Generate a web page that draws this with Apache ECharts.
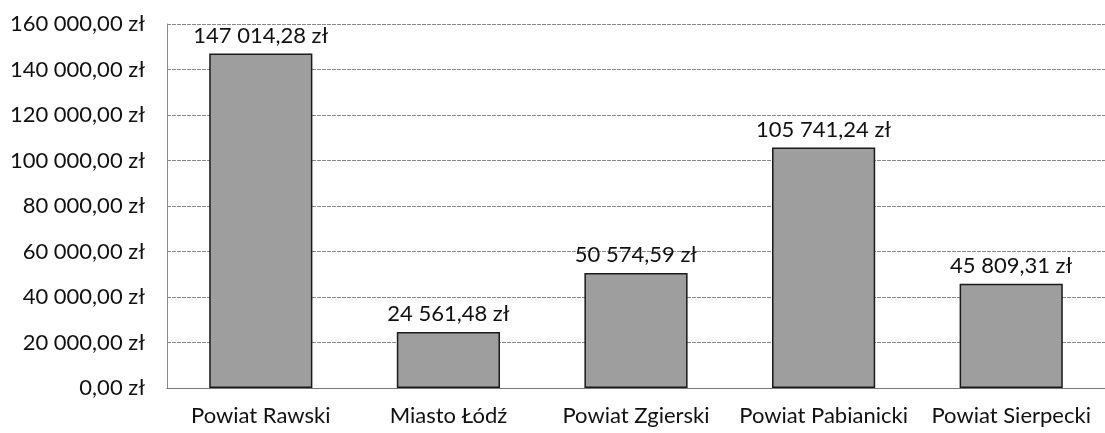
<!DOCTYPE html>
<html lang="pl">
<head>
    <meta charset="UTF-8">
    <title>Powiaty</title>
    <style>
        html, body { margin: 0; padding: 0; background: #fff; }
    </style>
</head>
<body>
    <div id="main" style="width: 1105px;height:433px;"></div>

    <script src="https://cdn.jsdelivr.net/npm/echarts@6/dist/echarts.min.js"></script>
    <script>
        const categories = ['Powiat Rawski', 'Miasto Łódź', 'Powiat Zgierski', 'Powiat Pabianicki', 'Powiat Sierpecki'];
        const values = [147014.28, 24561.48, 50574.59, 105741.24, 45809.31];
        const yTicks = [0, 20000, 40000, 60000, 80000, 100000, 120000, 140000, 160000];

        function formatZl(v) {
            const parts = v.toFixed(2).split('.');
            const intPart = parts[0].replace(/\B(?=(\d{3})+(?!\d))/g, ' ');
            return intPart + ',' + parts[1] + ' zł';
        }

        const chart = echarts.init(document.getElementById('main'));
        const font = 'Lato';

        const option = {
            animation: false,
            grid: { left: 167, right: 0, top: 24, bottom: 45 },
            xAxis: {
                type: 'category',
                data: categories,
                axisTick: { show: false },
                axisLine: { lineStyle: { color: '#777', width: 1 } },
                axisLabel: {
                    color: '#111',
                    fontFamily: font,
                    fontSize: 22,
                    margin: 17,
                    interval: 0
                }
            },
            yAxis: {
                type: 'value',
                min: yTicks[0],
                max: yTicks[yTicks.length - 1],
                interval: 20000,
                axisLine: { show: true, lineStyle: { color: '#888', width: 1 } },
                axisTick: { show: false },
                splitLine: { lineStyle: { color: '#888', width: 1, type: [4, 1] } },
                axisLabel: {
                    color: '#111',
                    fontFamily: font,
                    fontSize: 22,
                    margin: 22,
                    formatter: v => formatZl(v)
                }
            },
            series: [{
                type: 'bar',
                data: values,
                barWidth: '55%',
                itemStyle: {
                    color: '#9e9e9e',
                    borderColor: '#1a1a1a',
                    borderWidth: 1.5
                },
                label: {
                    show: true,
                    position: 'top',
                    distance: 7,
                    color: '#111',
                    fontFamily: font,
                    fontSize: 22,
                    formatter: p => formatZl(p.value)
                }
            }]
        };

        chart.setOption(option);
    </script>
</body>
</html>
